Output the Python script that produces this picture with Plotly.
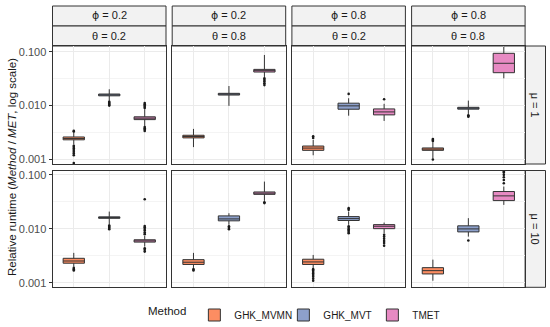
import plotly.graph_objects as go

# ---------------- data ----------------
methods = ["GHK_MVMN", "GHK_MVT", "TMET"]
colors = {"GHK_MVMN": "#FC8D62", "GHK_MVT": "#8DA0CB", "TMET": "#E78AC3"}
PHI = '<span style="font-family:DejaVu Sans">ϕ</span>'
phi_labels = [PHI + " = 0.2", PHI + " = 0.2", PHI + " = 0.8", PHI + " = 0.8"]
theta_labels = ["θ = 0.2", "θ = 0.8", "θ = 0.2", "θ = 0.8"]
mu_labels = ["μ = 1", "μ = 10"]
y_tick_vals = [0.001, 0.01, 0.1]
y_tick_text = ["0.001", "0.010", "0.100"]

# panel order: row1 col1..col4 (mu=1), row2 col1..col4 (mu=10)
mvmn_median = [0.00245, 0.00267, 0.00163, 0.00156, 0.00255, 0.00242, 0.00245, 0.00169]
mvmn_q1 = [0.00232, 0.00252, 0.00148, 0.00148, 0.00232, 0.00220, 0.00220, 0.00147]
mvmn_q3 = [0.00262, 0.00282, 0.00178, 0.00164, 0.00286, 0.00270, 0.00275, 0.00192]
mvmn_lo = [0.00190, 0.00170, 0.00120, 0.00105, 0.00200, 0.00190, 0.00190, 0.00110]
mvmn_hi = [0.00320, 0.00370, 0.00230, 0.00210, 0.00360, 0.00360, 0.00330, 0.00270]
mvmn_out = [
    [0.0018, 0.0017, 0.0016, 0.0015, 0.0014, 0.0013, 0.0012, 0.00086, 0.0033, 0.0034],
    [],
    [0.0027, 0.0025],
    [0.0022, 0.0023, 0.0024, 0.00100],
    [0.0019, 0.0018, 0.0017],
    [0.0018, 0.0017],
    [0.0018, 0.0017, 0.0016, 0.0015, 0.0014, 0.0013, 0.0012, 0.0011],
    [],
]

mvt_median = [0.0158, 0.0163, 0.0099, 0.00895, 0.0162, 0.0153, 0.0155, 0.0100]
mvt_q1 = [0.0152, 0.0157, 0.00857, 0.0086, 0.0157, 0.0141, 0.0143, 0.0088]
mvt_q3 = [0.0164, 0.0169, 0.0111, 0.0093, 0.0167, 0.0174, 0.0169, 0.0114]
mvt_lo = [0.0122, 0.0099, 0.0065, 0.0070, 0.0119, 0.0119, 0.0119, 0.0072]
mvt_hi = [0.0201, 0.0231, 0.0137, 0.0124, 0.0209, 0.0195, 0.0209, 0.0158]
mvt_out = [
    [0.0118, 0.0113, 0.0108, 0.0104, 0.0100],
    [],
    [0.0165],
    [0.0066, 0.0064, 0.0062],
    [0.0115, 0.0110, 0.0105, 0.0099],
    [0.0112, 0.0105, 0.0099],
    [0.0225, 0.0242, 0.0112, 0.0105, 0.0099, 0.0093, 0.0088, 0.0083],
    [0.0061],
]

tmet_median = [0.00585, 0.0445, 0.00764, 0.0610, 0.0060, 0.0458, 0.0112, 0.0408]
tmet_q1 = [0.0055, 0.0420, 0.00673, 0.0408, 0.0057, 0.0435, 0.0101, 0.0334]
tmet_q3 = [0.0062, 0.0470, 0.00869, 0.0934, 0.0063, 0.0482, 0.0120, 0.0491]
tmet_lo = [0.0042, 0.0340, 0.0052, 0.0321, 0.0047, 0.0330, 0.0083, 0.0278]
tmet_hi = [0.0085, 0.0870, 0.0108, 0.1250, 0.0074, 0.0750, 0.0131, 0.0607]
tmet_out = [
    [0.0090, 0.0095, 0.0100, 0.0106, 0.0112, 0.0040, 0.0038, 0.0036, 0.0034],
    [0.032, 0.030, 0.028, 0.026, 0.024],
    [0.0131],
    [],
    [0.0080, 0.0086, 0.0093, 0.0100, 0.0107, 0.0113, 0.0354, 0.0044, 0.0041, 0.0038],
    [0.031, 0.030],
    [0.0078, 0.0072, 0.0066, 0.0060, 0.0055, 0.0049],
    [0.070, 0.080, 0.090, 0.100, 0.110, 0.115],
]

stats = {
    "GHK_MVMN": (mvmn_q1, mvmn_median, mvmn_q3, mvmn_lo, mvmn_hi, mvmn_out),
    "GHK_MVT": (mvt_q1, mvt_median, mvt_q3, mvt_lo, mvt_hi, mvt_out),
    "TMET": (tmet_q1, tmet_median, tmet_q3, tmet_lo, tmet_hi, tmet_out),
}

# ---------------- layout geometry (pixels) ----------------
W, H = 550, 327
col_x0 = [52.5, 172.2, 291.9, 411.6]
col_w = 113.5
row_y = [(46, 164), (170.5, 287.3)]
row_range = [[-3.083, -0.894], [-3.08, -0.92]]

def fx(px):
    return px / W

def fy(py):
    return 1 - py / H

FONT = "Liberation Sans, Arial, sans-serif"
fig = go.Figure()
layout = {}
shapes = []
annotations = []

for k in range(8):
    r, c = divmod(k, 4)
    ax = "" if k == 0 else str(k + 1)
    xa, ya = "x" + ax, "y" + ax
    for mi, m in enumerate(methods):
        q1, med, q3, lo, hi, out = stats[m]
        fig.add_trace(go.Box(
            x=[mi + 1], q1=[q1[k]], median=[med[k]], q3=[q3[k]],
            lowerfence=[lo[k]], upperfence=[hi[k]],
            width=0.6, whiskerwidth=0, boxpoints=False,
            fillcolor=colors[m], line=dict(color="#333333", width=1),
            name=m, legendgroup=m, showlegend=(k == 0),
            xaxis=xa, yaxis=ya, hoverinfo="skip",
        ))
        if out[k]:
            fig.add_trace(go.Scatter(
                x=[mi + 1] * len(out[k]), y=out[k], mode="markers",
                marker=dict(color="#1A1A1A", size=2.6), showlegend=False,
                xaxis=xa, yaxis=ya, hoverinfo="skip",
            ))
    x0 = col_x0[c]
    x1 = x0 + col_w
    y0, y1 = row_y[r]
    layout["xaxis" + ax] = dict(
        domain=[fx(x0), fx(x1)], anchor=ya, range=[0.4, 3.6],
        tickvals=[1, 2, 3], showticklabels=False, ticks="",
        showgrid=True, gridcolor="#EBEBEB", gridwidth=1, zeroline=False,
        showline=True, mirror=True, linecolor="#333333", linewidth=1,
    )
    layout["yaxis" + ax] = dict(
        domain=[fy(y1), fy(y0)], anchor=xa, type="log", range=row_range[r],
        tickvals=y_tick_vals, ticktext=y_tick_text, showticklabels=(c == 0),
        ticks="outside" if c == 0 else "", ticklen=3, tickcolor="#333333",
        tickfont=dict(size=11, color="#4D4D4D", family=FONT),
        showgrid=True, gridcolor="#EBEBEB", gridwidth=1, zeroline=False,
        showline=True, mirror=True, linecolor="#333333", linewidth=1,
        minor=dict(tickvals=[10 ** -2.5, 10 ** -1.5], showgrid=True,
                   gridcolor="#F4F4F4", gridwidth=0.6, ticks=""),
    )

# top strips
for c in range(4):
    x0 = col_x0[c]
    x1 = x0 + col_w
    for (sy0, sy1), lab in (((6, 26), phi_labels[c]), ((26, 46), theta_labels[c])):
        shapes.append(dict(type="rect", xref="paper", yref="paper",
                           x0=fx(x0), x1=fx(x1), y0=fy(sy1), y1=fy(sy0),
                           fillcolor="#F2F2F2", line=dict(color="#333333", width=1),
                           layer="below"))
        annotations.append(dict(text=lab, x=fx((x0 + x1) / 2), y=fy((sy0 + sy1) / 2),
                                xref="paper", yref="paper", showarrow=False,
                                xanchor="center", yanchor="middle",
                                font=dict(size=11, color="#1A1A1A", family=FONT)))

# right strips
for r in range(2):
    y0, y1 = row_y[r]
    shapes.append(dict(type="rect", xref="paper", yref="paper",
                       x0=fx(525.1), x1=fx(545.5), y0=fy(y1), y1=fy(y0),
                       fillcolor="#F2F2F2", line=dict(color="#333333", width=1),
                       layer="below"))
    annotations.append(dict(text=mu_labels[r], x=fx(535.3), y=fy((y0 + y1) / 2),
                            xref="paper", yref="paper", showarrow=False, textangle=90,
                            xanchor="center", yanchor="middle",
                            font=dict(size=11, color="#1A1A1A", family=FONT)))

# y-axis title
annotations.append(dict(text="Relative runtime (<i>Method</i> / <i>MET</i>, log scale)",
                        x=fx(12), y=fy(167), xref="paper", yref="paper",
                        showarrow=False, textangle=-90, xanchor="center", yanchor="middle",
                        font=dict(size=11.5, color="#1A1A1A", family=FONT)))

fig.update_layout(
    width=W, height=H, margin=dict(l=0, r=0, t=0, b=0, autoexpand=False),
    paper_bgcolor="white", plot_bgcolor="white",
    shapes=shapes, annotations=annotations,
    legend=dict(orientation="h", x=fx(146), xanchor="left", y=fy(315), yanchor="middle",
                title=dict(text="Method", side="left",
                           font=dict(size=11.5, color="#1A1A1A", family=FONT)),
                font=dict(size=10, color="#1A1A1A", family=FONT),
                itemwidth=30, entrywidth=44, entrywidthmode="pixels",
                tracegroupgap=0, bgcolor="rgba(0,0,0,0)"),
    **layout,
)

fig.write_html("out.html", config={"displayModeBar": False},
               post_script="document.body.style.margin='0';")
